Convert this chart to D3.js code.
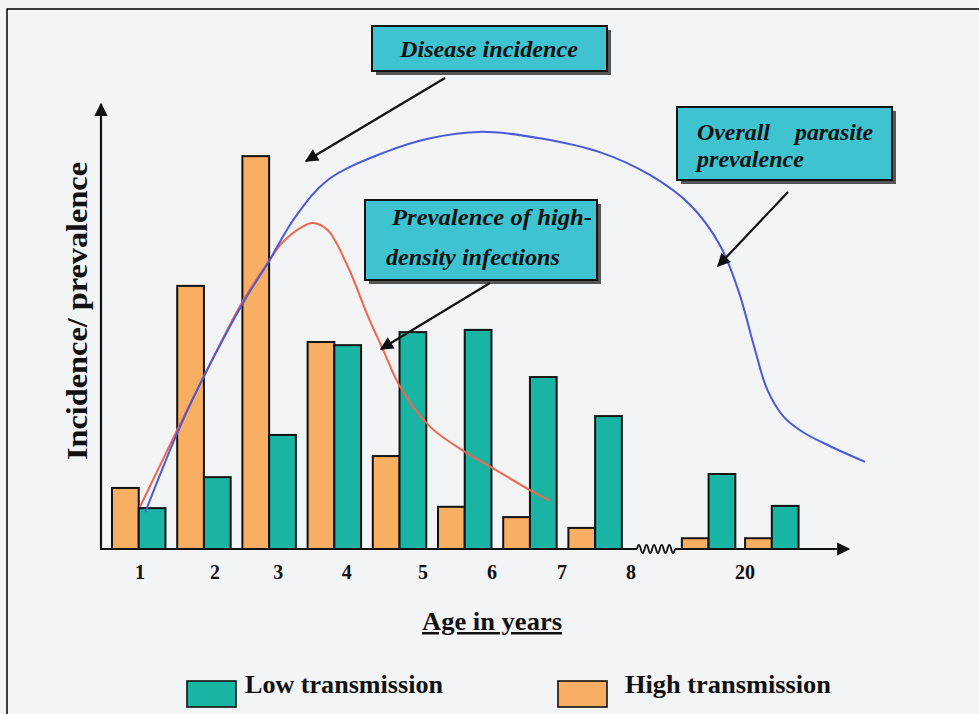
<!DOCTYPE html>
<html><head><meta charset="utf-8">
<script src="https://cdn.jsdelivr.net/npm/d3@7"></script>
<style>
html,body{margin:0;padding:0;background:#f3f4f6;}
svg{display:block;}
</style></head>
<body>
<svg id="c" width="979" height="714"></svg>
<script>
// ---- data ----
const ageLabels = ["1","2","3","4","5","6","7","8","20"];
const labelSlot = [0.43, 1.58, 2.55, 3.6, 4.77, 5.83, 6.9, 7.96, 9.71];
const groupSlot = [0, 1, 2, 3, 4, 5, 6, 7, 8.74, 9.71];
const highTransmission = [13.6, 58.6, 87.5, 46.1, 20.7, 9.4, 7.1, 4.7, 2.4, 2.4];
const lowTransmission  = [9.1, 16.0, 25.4, 45.4, 48.3, 48.8, 38.3, 29.6, 16.7, 9.6];
const overallSlot = [0.51, 1.0, 1.38, 2.01, 2.39, 2.81, 3.31, 4.19, 4.88, 5.64, 6.56, 7.48, 8.25, 8.87, 9.33, 9.62, 9.85, 10.05, 10.3, 10.6, 11.0, 11.55];
const overallPrev = [8.2, 25.8, 37.6, 54.8, 63.7, 73.9, 82.2, 88.4, 91.5, 92.9, 91.5, 88.4, 83.3, 76.6, 67.5, 57.0, 45.0, 35.5, 29.5, 26.0, 23.0, 19.4];
const highDensSlot = [0.43, 1.0, 1.38, 1.99, 2.39, 2.61, 2.91, 3.08, 3.31, 3.62, 3.93, 4.16, 4.42, 4.88, 5.44, 5.84, 6.41, 6.72];
const highDensPrev = [9.4, 26.5, 37.6, 54.8, 63.7, 68.2, 71.7, 72.6, 71.0, 62.8, 51.7, 44.3, 36.1, 27.2, 21.4, 18.0, 13.1, 10.7];
const legendLabels = ["Low transmission", "High transmission"];

// ---- style ----
const TEAL = "#19b4a4", ORANGE = "#f8af63", BOX = "#3fc3d0";
const BLUE = "#4a5ad8", RED = "#f1654c";
const FONT = "'Liberation Serif','Times New Roman',serif";

const svg = d3.select("#c");
svg.append("rect").attr("width",979).attr("height",714).attr("fill","#f3f4f6");
// frame
svg.append("rect").attr("x",7).attr("y",9).attr("width",1000).attr("height",800)
  .attr("fill","none").attr("stroke","#111").attr("stroke-width",1.6);

const x = d3.scaleLinear().domain([0,1]).range([112,177.2]);
const y = d3.scaleLinear().domain([0,100]).range([549,100]);
const bw = x(0.41) - x(0);

const defs = svg.append("defs");
defs.append("marker").attr("id","ah").attr("viewBox","0 0 10 10").attr("refX",9).attr("refY",5)
  .attr("markerWidth",7).attr("markerHeight",6).attr("markerUnits","strokeWidth").attr("orient","auto")
  .append("path").attr("d","M0,0 L10,5 L0,10 Z").attr("fill","#111");

// bars
const g = svg.append("g");
g.selectAll("rect.h").data(highTransmission).join("rect").attr("class","h")
  .attr("x",(d,i)=>x(groupSlot[i])).attr("width",bw)
  .attr("y",d=>y(d)).attr("height",d=>y(0)-y(d))
  .attr("fill",ORANGE).attr("stroke","#111").attr("stroke-width",2);
g.selectAll("rect.l").data(lowTransmission).join("rect").attr("class","l")
  .attr("x",(d,i)=>x(groupSlot[i])+bw).attr("width",bw)
  .attr("y",d=>y(d)).attr("height",d=>y(0)-y(d))
  .attr("fill",TEAL).attr("stroke","#111").attr("stroke-width",2);

// curves
const line = d3.line().x(d=>x(d[0])).y(d=>y(d[1])).curve(d3.curveCatmullRom.alpha(0.5));
svg.append("path").attr("d",line(highDensSlot.map((s,i)=>[s,highDensPrev[i]])))
  .attr("fill","none").attr("stroke",RED).attr("stroke-width",2);
svg.append("path").attr("d",line(overallSlot.map((s,i)=>[s,overallPrev[i]])))
  .attr("fill","none").attr("stroke",BLUE).attr("stroke-width",2);

// axes
const y0 = y(0);
svg.append("line").attr("x1",101).attr("y1",y0+1).attr("x2",101).attr("y2",y(100)+4)
  .attr("stroke","#111").attr("stroke-width",2.2).attr("marker-end","url(#ah)");
svg.append("line").attr("x1",100).attr("y1",y0).attr("x2",637).attr("y2",y0)
  .attr("stroke","#111").attr("stroke-width",2.2);
// squiggle break
let sq = "M637," + y0;
const nW = 5, wl = (675-637)/nW;
for (let i=0;i<nW;i++){
  const x0 = 637 + i*wl;
  sq += ` Q${x0+wl/4},${y0-8} ${x0+wl/2},${y0} Q${x0+3*wl/4},${y0+8} ${x0+wl},${y0}`;
}
svg.append("path").attr("d",sq).attr("fill","none").attr("stroke","#111").attr("stroke-width",1.8);
svg.append("line").attr("x1",675).attr("y1",y0).attr("x2",849).attr("y2",y0)
  .attr("stroke","#111").attr("stroke-width",2.2).attr("marker-end","url(#ah)");

// tick labels
svg.selectAll("text.tick").data(ageLabels).join("text").attr("class","tick")
  .attr("x",(d,i)=>x(labelSlot[i])).attr("y",579)
  .attr("text-anchor","middle").attr("font-family",FONT).attr("font-weight","bold")
  .attr("font-size",20).attr("fill","#111").text(d=>d);

// axis titles
svg.append("text").attr("x",422).attr("y",630)
  .attr("font-family",FONT).attr("font-weight","bold").attr("font-size",25)
  .attr("textLength",140).attr("lengthAdjust","spacingAndGlyphs")
  .attr("text-decoration","underline").attr("fill","#111").text("Age in years");
svg.append("text").attr("transform","translate(87,460) rotate(-90)")
  .attr("font-family",FONT).attr("font-weight","bold").attr("font-size",29)
  .attr("textLength",298).attr("lengthAdjust","spacingAndGlyphs")
  .attr("fill","#111").text("Incidence/ prevalence");

// legend
const legColors = [TEAL, ORANGE];
const legX = [187, 558];
const legTx = [245, 625];
const legTw = [198, 206];
legendLabels.forEach((t,i)=>{
  svg.append("rect").attr("x",legX[i]).attr("y",681).attr("width",49).attr("height",26)
    .attr("fill",legColors[i]).attr("stroke","#111").attr("stroke-width",1.6);
  svg.append("text").attr("x",legTx[i]).attr("y",693).attr("font-family",FONT)
    .attr("font-weight","bold").attr("font-size",25)
    .attr("textLength",legTw[i]).attr("lengthAdjust","spacingAndGlyphs")
    .attr("fill","#111").text(t);
});

// callouts
function callout(x0,y0,w,h,lines,fs){
  svg.append("rect").attr("x",x0+4).attr("y",y0+4).attr("width",w).attr("height",h).attr("fill","#555");
  svg.append("rect").attr("x",x0).attr("y",y0).attr("width",w).attr("height",h)
    .attr("fill",BOX).attr("stroke","#111").attr("stroke-width",2);
  lines.forEach(l=>{
    const t = svg.append("text").attr("x",l[0]).attr("y",l[1])
      .attr("font-family",FONT).attr("font-style","italic").attr("font-weight","bold")
      .attr("font-size",fs).attr("fill","#111").text(l[2]);
    if (l[3]) t.attr("textLength",l[3]).attr("lengthAdjust","spacingAndGlyphs");
  });
}
callout(372,26,235,45,[[400,57,"Disease incidence",178]],23);
callout(677,107,215,73,[[697,140,"Overall",73],[795,140,"parasite",78],[697,167,"prevalence",107]],23);
callout(365,200,232,80,[[392,225,"Prevalence of high-",200],[386,265,"density infections",174]],23);

// arrows
function arrow(x1,y1,x2,y2){
  svg.append("line").attr("x1",x1).attr("y1",y1).attr("x2",x2).attr("y2",y2)
    .attr("stroke","#111").attr("stroke-width",2.2).attr("marker-end","url(#ah)");
}
arrow(445,78,306,161);
arrow(788,192,718,266);
arrow(490,283,381,349);
</script>
</body></html>
